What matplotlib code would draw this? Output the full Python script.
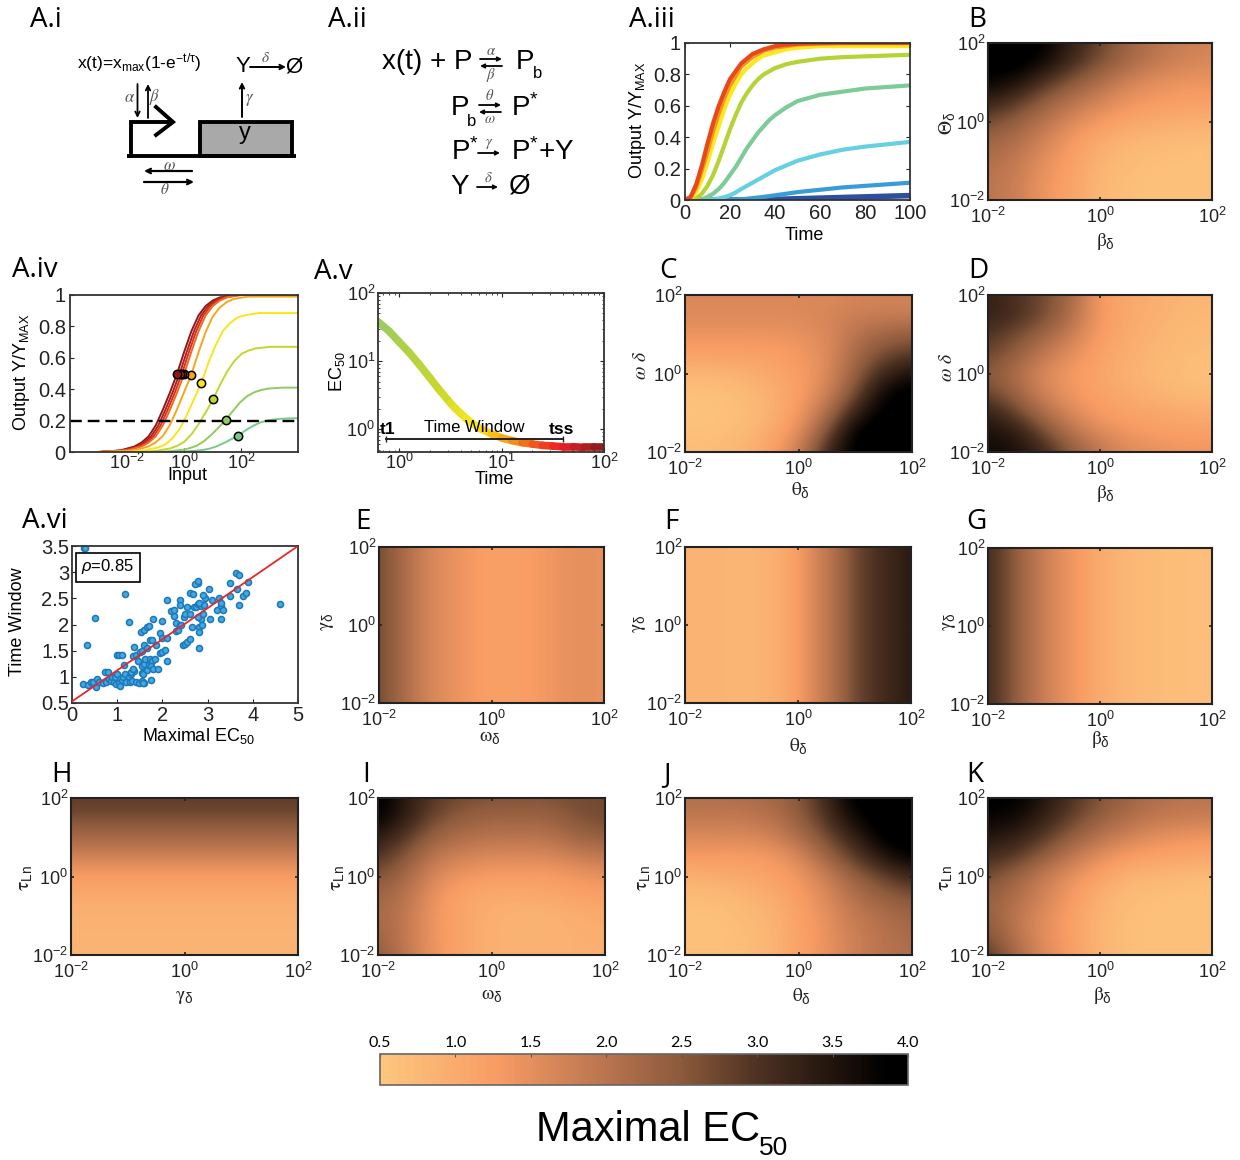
import numpy as np
import matplotlib
matplotlib.use("Agg")
import matplotlib.pyplot as plt
from matplotlib.collections import LineCollection
from matplotlib.colors import LinearSegmentedColormap
from matplotlib.ticker import NullLocator

plt.rcParams['font.family'] = ['Liberation Sans', 'DejaVu Sans']
plt.rcParams['mathtext.fontset'] = 'custom'
plt.rcParams['mathtext.rm'] = 'Liberation Sans'
plt.rcParams['mathtext.it'] = 'Liberation Sans:italic'
plt.rcParams['mathtext.default'] = 'regular'

W, H = 1240, 1160

# ---------- A.iii output vs time
t3 = [0, 2.5, 5, 7.5, 10, 12.5, 15, 17.5, 20, 22.5, 25, 27.5, 30, 32.5, 35, 37.5, 40, 45, 50, 55, 60, 70, 80, 90, 100]
y3_red = [0, .02, .10, .22, .36, .49, .60, .69, .77, .82, .87, .90, .93, .945, .96, .97, .98, .99, .995, .998, 1, 1, 1, 1, 1]
y3_orange = [0, .015, .08, .19, .31, .44, .55, .65, .73, .79, .85, .88, .91, .93, .95, .96, .97, .98, .99, .993, .995, 1, 1, 1, 1]
y3_yellow = [0, .01, .05, .13, .24, .36, .47, .58, .67, .74, .80, .84, .87, .90, .92, .93, .94, .96, .97, .975, .98, .98, .98, .98, .98]
y3_ygreen = [0, 0, .01, .04, .09, .16, .25, .35, .45, .54, .62, .68, .73, .77, .80, .82, .84, .865, .88, .89, .90, .91, .915, .92, .925]
y3_green = [0, 0, 0, .005, .02, .04, .07, .11, .16, .21, .27, .33, .38, .43, .47, .51, .54, .59, .63, .65, .67, .69, .71, .72, .73]
y3_cyan = [0, 0, 0, 0, 0, .004, .01, .018, .03, .048, .07, .09, .11, .13, .15, .17, .19, .22, .25, .27, .29, .32, .34, .355, .37]
y3_blue = [0, 0, 0, 0, 0, 0, 0, .001, .002, .003, .005, .008, .012, .016, .02, .025, .03, .04, .05, .058, .065, .08, .09, .10, .11]
y3_navy = [0, 0, 0, 0, 0, 0, 0, 0, 0, 0, 0, 0, .001, .0015, .002, .003, .004, .006, .008, .01, .012, .016, .02, .024, .028]

# ---------- A.iv dose response (log10 input, output)
x4 = [
    [-3, -2.24, -1.74, -1.49, -1.24, -.99, -.74, -.49, -.24, .01, .26, .51, .76, 1.01, 1.26, 1.76, 4],
    [-3, -2.15, -1.65, -1.4, -1.15, -.9, -.65, -.4, -.15, .1, .35, .6, .85, 1.1, 1.35, 1.85, 4],
    [-3, -2.07, -1.57, -1.32, -1.07, -.82, -.57, -.32, -.07, .18, .43, .68, .93, 1.18, 1.43, 1.93, 4],
    [-3, -1.99, -1.49, -1.24, -.99, -.74, -.49, -.24, .01, .26, .51, .76, 1.01, 1.26, 1.51, 2.01, 4],
    [-3, -1.75, -1.25, -1, -.75, -.5, -.25, 0, .25, .5, .75, 1, 1.25, 1.5, 1.75, 2.25, 4],
    [-2, -1.39, -.89, -.64, -.39, -.14, .11, .36, .61, .86, 1.11, 1.36, 1.61, 1.86, 2.11, 2.61, 4],
    [-1.5, -.98, -.48, -.23, .02, .27, .52, .77, 1.02, 1.27, 1.52, 1.77, 2.02, 2.27, 2.52, 3.02, 4],
    [-1, -.54, -.04, .21, .46, .71, .96, 1.21, 1.46, 1.71, 1.96, 2.21, 2.46, 2.71, 2.96, 3.46, 4],
    [-.5, -.09, .41, .66, .91, 1.16, 1.41, 1.66, 1.91, 2.16, 2.41, 2.66, 2.91, 3.16, 3.41, 3.91, 4],
]
y4_full = [0, .01, .035, .06, .10, .17, .27, .38, .5, .64, .77, .87, .93, .965, .985, 1, 1]
y4 = [
    y4_full, y4_full, y4_full, y4_full,
    [0, .01, .035, .06, .10, .17, .27, .38, .49, .63, .76, .86, .92, .955, .975, .99, .99],
    [0, .01, .03, .05, .09, .15, .24, .34, .44, .57, .68, .77, .82, .855, .87, .885, .885],
    [0, .007, .023, .04, .067, .114, .18, .255, .335, .43, .515, .58, .625, .647, .66, .67, .67],
    [0, .004, .014, .025, .041, .07, .11, .155, .205, .26, .315, .355, .38, .395, .404, .41, .41],
    [0, .002, .008, .013, .022, .037, .058, .082, .105, .138, .165, .187, .2, .207, .212, .215, .215],
]
dots4_x = [-.24, -.15, -.07, .01, .25, .61, 1.02, 1.46, 1.91]
dots4_y = [.5, .5, .5, .5, .49, .44, .335, .205, .105]
colors4 = ['#8b1a1a', '#b5201e', '#d8321f', '#ef6a21', '#f9a51a', '#fbe41c', '#c3d62e', '#8fcb5e', '#79c98f']

# ---------- A.v EC50 vs time (log10)
logt5 = [-.21, -.1, 0, .1, .2, .3, .4, .5, .55, .6, .65, .7, .8, .9, 1, 1.1, 1.2, 1.3, 1.4, 1.5, 1.6, 1.7, 1.8, 1.9, 2]
logec5 = [1.58, 1.44, 1.28, 1.12, .94, .75, .56, .38, .3, .23, .16, .1, 0, -.07, -.13, -.17, -.2, -.22, -.24, -.25, -.26, -.26, -.27, -.27, -.27]

# ---------- A.vi scatter
ec_max = [.27, .28, .34, .5, 1.18, 1.25, 4.6, .25, .35, .42, .47, .52, .56, .6, .68, .72, .75, .8, .82, .86, .88, .92, .95, .97, 1.0, 1.03, 1.07, 1.1, 1.13, 1.17, 1.2, 1.25, 1.28, 1.3, 1.33, 1.38, 1.42, 1.48, 1.55, 1.6, 1.58, 1.75,
          1.0, 1.05, 1.1, 1.15, 1.3, 1.35, 1.35, 1.38, 1.42, 1.45, 1.5, 1.55, 1.58, 1.55, 1.6, 1.62, 1.65, 1.7, 1.72, 1.78, 1.75, 1.8, 1.83, 1.9,
          1.53, 1.6, 1.65, 1.7, 1.8, 1.55, 1.6, 1.65, 1.72, 1.78, 1.85, 1.95, 2.0, 2.05, 2.1, 1.95, 2.0, 2.1, 2.0,
          2.1, 2.25, 2.2, 2.25, 2.3, 2.3, 2.35, 2.38, 2.42, 2.4, 2.4, 2.45, 2.5, 2.55, 2.6, 2.48, 2.5, 2.55, 2.6, 2.65, 2.7, 2.62, 2.67, 2.75, 2.78, 2.8, 2.8, 2.82, 2.85, 2.87, 2.78, 2.9, 2.85, 2.92, 2.95, 2.8, 2.78, 2.72, 2.78, 3.02, 3.05, 3.1, 2.9, 3.25, 3.2, 3.3, 3.35, 3.3, 3.3, 3.5, 3.5, 3.62, 3.7, 3.7, 3.65, 3.78, 3.85, 3.9]
time_window = [3.46, 3.46, 1.6, 2.13, 2.58, 2.05, 2.4, .87, .85, .9, .91, .8, .96, .9, .89, 1.1, .91, 1.09, .95, .92, 1.0, .9, 1.0, .86, 1.05, .88, .82, .93, 1.0, 1.05, .9, 1.0, .9, 1.05, .92, 1.12, .9, .88, .92, .89, .88, .94,
               1.42, 1.42, 1.42, 1.22, 1.1, 1.15, 1.4, 1.57, 1.42, 1.3, 1.48, 1.07, 1.05, 1.2, 1.25, 1.35, 1.13, 1.22, 1.35, 1.3, 1.2, 1.15, 1.35, 1.15,
               1.85, 1.9, 1.95, 1.97, 2.1, 1.5, 1.6, 1.55, 1.7, 1.7, 1.6, 1.45, 1.48, 1.52, 1.3, 1.83, 1.75, 1.75, 2.07,
               2.46, 2.16, 2.25, 2.27, 2.02, 1.88, 1.9, 2.0, 2.0, 2.46, 2.37, 1.6, 1.62, 1.67, 1.72, 2.15, 2.2, 2.33, 2.2, 1.95, 2.33, 2.6, 2.58, 2.33, 2.4, 1.55, 1.95, 1.85, 2.1, 2.0, 2.15, 2.2, 2.35, 2.38, 2.5, 2.42, 2.8, 2.77, 2.83, 2.68, 2.1, 2.47, 2.57, 2.5, 2.28, 2.35, 2.27, 2.1, 2.42, 2.55, 2.8, 2.98, 2.95, 2.37, 2.67, 2.55, 2.6, 2.82]
fit_x = [0, 5]
fit_y = [.53, 3.5]

# ---------- heatmaps, first row is the top of the panel (1e2), half decade grid
Z_B = [[4.0, 4.0, 3.9, 3.3, 2.8, 2.3, 2.0, 1.8, 1.7],
       [4.0, 4.0, 3.7, 3.1, 2.6, 2.2, 1.9, 1.7, 1.6],
       [3.8, 3.6, 3.0, 2.5, 2.1, 1.7, 1.5, 1.4, 1.4],
       [3.3, 2.9, 2.4, 2.0, 1.7, 1.4, 1.3, 1.2, 1.2],
       [2.7, 2.4, 2.0, 1.6, 1.3, 1.1, 1.0, .95, .9],
       [2.3, 2.1, 1.7, 1.3, 1.0, .8, .75, .7, .7],
       [2.1, 1.9, 1.5, 1.2, .85, .7, .65, .6, .6],
       [2.0, 1.8, 1.4, 1.15, .8, .65, .6, .6, .6],
       [2.0, 1.8, 1.4, 1.1, .75, .65, .6, .6, .6]]
Z_C = [[1.6, 1.6, 1.6, 1.6, 1.6, 1.6, 1.65, 1.7, 1.7],
       [1.6, 1.6, 1.6, 1.6, 1.6, 1.65, 1.8, 1.8, 1.8],
       [1.4, 1.4, 1.4, 1.4, 1.45, 1.6, 2.0, 2.3, 2.4],
       [1.2, 1.2, 1.2, 1.2, 1.3, 1.55, 2.2, 2.7, 2.9],
       [.8, .8, .9, 1.05, 1.25, 1.55, 2.4, 3.2, 3.6],
       [.6, .6, .7, .9, 1.2, 1.7, 2.7, 3.8, 4.0],
       [.55, .55, .65, .85, 1.3, 2.1, 3.3, 4.0, 4.0],
       [.6, .6, .7, 1.0, 1.5, 2.6, 4.0, 4.0, 4.0],
       [.7, .7, .8, 1.15, 1.8, 3.2, 4.0, 4.0, 4.0]]
Z_D = [[3.3, 3.0, 2.7, 2.2, 1.25, 1.05, .95, .85, .8],
       [3.3, 3.1, 2.7, 2.1, 1.3, 1.05, .9, .8, .75],
       [3.0, 2.7, 2.3, 1.8, 1.25, 1.0, .85, .75, .7],
       [2.8, 2.4, 1.9, 1.5, 1.15, .95, .8, .7, .65],
       [2.5, 2.1, 1.6, 1.3, 1.1, .9, .75, .65, .6],
       [2.8, 2.3, 1.7, 1.35, 1.15, 1.0, .85, .75, .7],
       [3.3, 2.8, 2.1, 1.6, 1.25, 1.15, 1.1, 1.0, .95],
       [3.6, 3.4, 2.7, 2.0, 1.6, 1.35, 1.25, 1.2, 1.2],
       [3.7, 3.6, 3.2, 2.5, 1.95, 1.6, 1.5, 1.4, 1.4]]
Z_I = [[4.0, 3.4, 2.9, 2.7, 2.6, 2.6, 2.6, 2.7, 2.7],
       [3.9, 3.3, 2.7, 2.4, 2.3, 2.3, 2.3, 2.6, 2.7],
       [3.4, 2.9, 2.3, 2.1, 2.0, 2.0, 2.0, 2.3, 2.4],
       [3.0, 2.5, 1.9, 1.7, 1.6, 1.6, 1.6, 1.8, 1.9],
       [2.6, 2.2, 1.6, 1.35, 1.25, 1.25, 1.25, 1.35, 1.45],
       [2.3, 2.0, 1.4, 1.1, 1.0, 1.0, 1.05, 1.15, 1.2],
       [2.2, 1.9, 1.35, 1.1, .9, .85, .85, .95, 1.0],
       [2.3, 1.9, 1.35, 1.1, .9, .85, .85, .9, .95],
       [2.5, 1.9, 1.4, 1.1, .9, .9, .9, .9, .9]]
Z_J = [[2.1, 2.1, 2.1, 2.2, 2.5, 3.2, 4.0, 4.0, 4.0],
       [1.9, 1.9, 1.9, 2.0, 2.4, 3.0, 3.8, 4.0, 4.0],
       [1.6, 1.6, 1.6, 1.7, 2.1, 2.7, 3.3, 4.0, 4.0],
       [1.3, 1.3, 1.25, 1.3, 1.6, 2.3, 2.9, 3.5, 3.9],
       [.9, .95, 1.05, 1.15, 1.35, 1.8, 2.4, 2.8, 3.2],
       [.7, .7, .8, .95, 1.25, 1.6, 2.1, 2.4, 2.6],
       [.6, .6, .7, .85, 1.15, 1.5, 1.9, 2.1, 2.3],
       [.6, .6, .65, .8, 1.15, 1.45, 1.8, 2.0, 2.2],
       [.6, .6, .65, .8, 1.15, 1.45, 1.8, 2.0, 2.1]]
Z_K = [[3.9, 3.9, 3.5, 3.0, 2.6, 2.3, 2.1, 2.0, 2.0],
       [3.8, 3.7, 3.3, 2.8, 2.4, 2.1, 1.9, 1.85, 1.8],
       [3.5, 3.3, 2.9, 2.4, 2.0, 1.7, 1.5, 1.4, 1.35],
       [3.1, 2.9, 2.4, 1.9, 1.5, 1.25, 1.15, 1.1, 1.05],
       [2.7, 2.3, 1.85, 1.45, 1.15, .85, .8, .75, .7],
       [2.4, 2.1, 1.7, 1.3, .9, .7, .65, .6, .6],
       [2.4, 1.95, 1.55, 1.2, .85, .65, .6, .6, .6],
       [2.6, 2.0, 1.5, 1.2, .8, .65, .6, .6, .6],
       [3.0, 2.2, 1.6, 1.25, .85, .65, .6, .6, .6]]
# panels that only change along one axis
band_E = [2.7, 2.3, 1.9, 1.6, 1.45, 1.3, 1.2, 1.2, 1.25, 1.35, 1.45, 1.5, 1.45]
band_F = [.85, .85, .85, .8, .85, .95, 1.25, 1.7, 2.1, 2.7, 3.0, 3.2, 3.4]
band_G = [3.1, 2.7, 2.2, 1.8, 1.5, 1.25, 1.0, .85, .75, .7, .65, .65, .65]
band_H = [2.85, 2.75, 2.5, 2.2, 1.9, 1.55, 1.25, 1.1, .95, .9, .85, .85, .85]

cbar_ticks = [.5, 1, 1.5, 2, 2.5, 3, 3.5, 4]
cbar_labels = ['0.5', '1.0', '1.5', '2.0', '2.5', '3.0', '3.5', '4.0']
log_labels = ['10$^{-2}$', '10$^{0}$', '10$^{2}$']

cmap = LinearSegmentedColormap.from_list('ec50', [
    (0, '#fdc67f'), (.22, '#f89c64'), (.43, '#b8734e'), (.57, '#8c5a3c'),
    (.714, '#4e3222'), (.857, '#22140d'), (.96, '#000000'), (1, '#000000')])
cmap_v = LinearSegmentedColormap.from_list('win', [
    (0, '#9ccb5e'), (.25, '#c8d82a'), (.42, '#fbe81e'), (.55, '#f9a51a'),
    (.68, '#f0581e'), (.8, '#ed1c24'), (.92, '#a8201f'), (1, '#7a1a1a')])

fig = plt.figure(figsize=(W/100, H/100), dpi=100)


def px_axes(x0, y0, x1, y1):
    return fig.add_axes([x0/W, 1-y1/H, (x1-x0)/W, (y1-y0)/H])


def style_box(ax, lw=1.3, col='#333333'):
    for s in ax.spines.values():
        s.set_linewidth(lw)
        s.set_color(col)
    ax.tick_params(which='both', direction='in', top=True, right=True, length=3, width=.8,
                   labelsize=14.5, pad=3, colors='#222222')


def heat(box, Z):
    ax = px_axes(*box)
    Z = np.array(Z, dtype=float)
    hx = 2 / (Z.shape[1]-1)
    hy = 2 / (Z.shape[0]-1)
    ax.imshow(Z, cmap=cmap, vmin=.5, vmax=4, origin='upper', aspect='auto', interpolation='bicubic',
              extent=(-2-hx, 2+hx, -2-hy, 2+hy))
    ax.set_xlim(-2, 2)
    ax.set_ylim(-2, 2)
    style_box(ax, lw=1.5, col='#222222')
    ax.tick_params(length=2.5, width=1.2, labelsize=13)
    ax.set_xticks([-2, 0, 2], log_labels)
    ax.set_yticks([-2, 0, 2], log_labels)
    ax.tick_params(axis='y', pad=2)
    ax.tick_params(axis='x', pad=5)
    return ax


# A.iii
ax = px_axes(685, 43, 910, 200)
for ys, c, lw in [(y3_navy, '#2b4fa2', 4), (y3_blue, '#3a9bd9', 3), (y3_cyan, '#66cfe0', 3), (y3_green, '#7ccb98', 3),
                  (y3_ygreen, '#b5d334', 3), (y3_yellow, '#fbe91e', 3), (y3_orange, '#f7941d', 3), (y3_red, '#e8481c', 3)]:
    ax.plot(t3, ys, color=c, lw=lw, solid_capstyle='butt')
ax.set_xlim(0, 100)
ax.set_ylim(0, 1)
ax.set_xticks([0, 20, 40, 60, 80, 100])
ax.set_yticks([0, .2, .4, .6, .8, 1], ['0', '0.2', '0.4', '0.6', '0.8', '1'])
style_box(ax)

# A.iv
ax = px_axes(70, 295, 298, 452)
for xs, ys, c in zip(x4, y4, colors4):
    ax.plot(10**np.array(xs), ys, color=c, lw=1.4)
ax.axhline(.2, color='k', lw=1.7, dashes=(5, 2.5))
for i in range(len(dots4_x)-1, -1, -1):
    ax.plot(10**dots4_x[i], dots4_y[i], 'o', ms=6, mfc=colors4[i], mec='k', mew=1.1)
ax.set_xscale('log')
ax.set_xlim(1e-4, 1e4)
ax.set_ylim(0, 1)
style_box(ax)
ax.set_xticks([1e-2, 1, 1e2], log_labels)
ax.xaxis.set_minor_locator(NullLocator())
ax.set_yticks([0, .2, .4, .6, .8, 1], ['0', '0.2', '0.4', '0.6', '0.8', '1'])
ax.tick_params(top=False, right=False)
ax.tick_params(axis='x', pad=1, labelsize=13)

# A.v
ax = px_axes(378, 293, 604, 452)
t5 = 10**np.array(logt5)
e5 = 10**np.array(logec5)
pts = np.column_stack([t5, e5])
segs = np.stack([pts[:-1], pts[1:]], axis=1)
pos = (np.array(logt5[:-1]) - logt5[0]) / (logt5[-1] - logt5[0])
ax.add_collection(LineCollection(segs, colors=cmap_v(pos), linewidths=5.5, capstyle='round'))
ax.plot([.75, 40], [.72, .72], color='#222222', lw=1.4, marker='|', ms=5, mew=1)
ax.set_xscale('log')
ax.set_yscale('log')
ax.set_xlim(.62, 100)
ax.set_ylim(.46, 100)
style_box(ax)
ax.set_xticks([1, 10, 100], ['10$^{0}$', '10$^{1}$', '10$^{2}$'])
ax.set_yticks([1, 10, 100], ['10$^{0}$', '10$^{1}$', '10$^{2}$'])
ax.tick_params(which='minor', length=1.5, width=.6)
ax.tick_params(axis='both', which='major', labelsize=13)
ax.tick_params(axis='y', pad=2)
ax.tick_params(axis='x', pad=1)

# A.vi
ax = px_axes(72, 546, 298, 703)
ax.plot(fit_x, fit_y, color='#e8262a', lw=1.3, zorder=3)
ax.scatter(ec_max, time_window, s=19, marker='o', c='#45a8e0', edgecolors='#1b78bb', linewidths=1.1, zorder=2, clip_on=True)
ax.set_xlim(0, 5)
ax.set_ylim(.5, 3.5)
ax.set_xticks([0, 1, 2, 3, 4, 5])
ax.set_yticks([.5, 1, 1.5, 2, 2.5, 3, 3.5], ['0.5', '1', '1.5', '2', '2.5', '3', '3.5'])
style_box(ax)
ax.tick_params(top=False, right=False, pad=2)

# heatmaps
heat((988, 43, 1212, 200), Z_B)
heat((685, 295, 912, 452), Z_C)
heat((988, 295, 1212, 452), Z_D)
heat((379, 547, 604, 703), [band_E, band_E])
heat((685, 547, 911, 703), [band_F, band_F])
heat((988, 548, 1212, 704), [band_G, band_G])
heat((71, 798, 298, 955), np.array([band_H, band_H]).T)
heat((378, 798, 605, 955), Z_I)
heat((685, 798, 912, 955), Z_J)
heat((988, 798, 1212, 955), Z_K)

# colorbar
cax = px_axes(380, 1054, 908, 1085)
sm = plt.cm.ScalarMappable(cmap=cmap, norm=plt.Normalize(.5, 4))
cb = fig.colorbar(sm, cax=cax, orientation='horizontal', ticks=cbar_ticks)
cb.ax.set_xticklabels(cbar_labels, family='Lato', fontsize=11.5)
cb.ax.xaxis.set_ticks_position('top')
cb.ax.tick_params(direction='in', length=2, width=.8, pad=3, color='#555555')
cb.outline.set_edgecolor('#666666')
cb.outline.set_linewidth(1.2)

# overlay in pixel coordinates for panel letters, axis names and the schemes
ov = fig.add_axes([0, 0, 1, 1], zorder=10)
ov.set_xlim(0, W)
ov.set_ylim(H, 0)
ov.axis('off')
ov.patch.set_alpha(0)


def T(x, y, s, fs=13, ha='center', va='center', **kw):
    ov.text(x, y, s, fontsize=fs, ha=ha, va=va, **kw)


def arrow(x0, y0, x1, y1, lw=1.3, ms=8):
    ov.annotate('', xy=(x1, y1), xytext=(x0, y0),
                arrowprops=dict(arrowstyle='->', lw=lw, color='k', shrinkA=0, shrinkB=0, mutation_scale=ms))


def greek(x, y, s, fs=11, col='#555555'):
    ov.text(x, y, r'$\mathit{%s}$' % s, fontsize=fs, ha='center', va='center', color=col, math_fontfamily='stix')


for lab, x, y in [('A.i', 30, 20), ('A.ii', 328, 20), ('A.iii', 629, 20), ('B', 968, 20),
                  ('A.iv', 12, 270), ('A.v', 314, 272), ('C', 659, 271), ('D', 968, 271),
                  ('A.vi', 22, 521), ('E', 355, 522), ('F', 664, 522), ('G', 966, 522),
                  ('H', 51, 775), ('I', 362, 775), ('J', 663, 775), ('K', 966, 775)]:
    T(x, y, lab, fs=20, ha='left', family='Open Sans')

# axis names of the line panels
T(804, 235, 'Time', fs=13)
T(637, 120, 'Output Y/Y$_{MAX}$', fs=13, rotation=90)
T(22, 372, 'Output Y/Y$_{MAX}$', fs=13, rotation=90)
T(187, 476, 'Input', fs=13)
T(337, 372, 'EC$_{50}$', fs=13, rotation=90)
T(494, 479, 'Time', fs=13)
T(474, 428, 'Time Window', fs=12)
T(388, 429, 't1', fs=12.5, fontweight='bold')
T(561, 430, 'tss', fs=12.5, fontweight='bold')
T(18, 622, 'Time Window', fs=13, rotation=90)
T(198, 736, 'Maximal EC$_{50}$', fs=13)
ov.text(108, 567, r'$\mathit{\rho}$=0.85', fontsize=12, ha='center', va='center',
        bbox=dict(boxstyle='square,pad=0.3', fc='white', ec='k', lw=1.2))

# axis names of the heatmaps
for x, y, s, rot in [(1105, 242, r'\mathrm{\beta}_\delta', 0), (947, 123, r'\mathrm{\Theta}_\delta', 90),
                     (800, 490, r'\mathrm{\theta}_\delta', 0), (641, 365, r'\mathit{\omega}\ \mathit{\delta}', 90),
                     (1105, 493, r'\mathrm{\beta}_\delta', 0), (948, 367, r'\mathit{\omega}\ \mathit{\delta}', 90),
                     (490, 738, r'\mathrm{\omega}_\delta', 0), (328, 622, r'\mathrm{\gamma}_\delta', 90),
                     (798, 746, r'\mathrm{\theta}_\delta', 0), (639, 624, r'\mathrm{\gamma}_\delta', 90),
                     (1100, 740, r'\mathrm{\beta}_\delta', 0), (950, 622, r'\mathrm{\gamma}_\delta', 90),
                     (184, 997, r'\mathrm{\gamma}_\delta', 0), (26, 878, r'\mathrm{\tau}_{Ln}', 90),
                     (492, 995, r'\mathrm{\omega}_\delta', 0), (338, 878, r'\mathrm{\tau}_{Ln}', 90),
                     (801, 996, r'\mathrm{\theta}_\delta', 0), (643, 878, r'\mathrm{\tau}_{Ln}', 90),
                     (1102, 996, r'\mathrm{\beta}_\delta', 0), (946, 878, r'\mathrm{\tau}_{Ln}', 90)]:
    ov.text(x, y, '$%s$' % s, fontsize=14, ha='center', va='center', rotation=rot,
            color='#222222', math_fontfamily='stix')

# A.i scheme
T(77, 63, 'x(t)=x$_{max}$(1-e$^{-t/\\tau}$)', fs=12.5, ha='left')
T(243, 67, 'Y', fs=16)
arrow(250, 67, 286, 67, lw=1.4)
greek(266, 58, r'\delta')
T(294, 67, 'Ø', fs=16)
arrow(242, 117, 242, 82, lw=1.4)
greek(250, 100, r'\gamma', fs=12)
ov.add_patch(plt.Rectangle((200, 122), 92, 34, fc='#a9a9a9', ec='k', lw=2.8))
T(245, 133, 'y', fs=17)
ov.plot([127, 296], [156, 156], color='k', lw=2.8, solid_capstyle='butt')
ov.plot([131, 131, 172], [156, 122, 122], color='k', lw=2.8, solid_joinstyle='miter')
ov.plot([156, 173, 156], [107, 122, 135], color='k', lw=2.8, solid_joinstyle='miter')
arrow(137.5, 84, 137.5, 118)
arrow(148, 118, 148, 84)
greek(130, 98, r'\alpha', fs=12)
greek(155, 97, r'\beta', fs=12)
arrow(192, 171, 144, 171, lw=1.6)
greek(169, 165, r'\omega', fs=12)
arrow(144, 182, 194, 182, lw=1.6)
greek(165, 190, r'\theta', fs=11)

# A.ii scheme
T(382, 62, 'x(t) + P', fs=20, ha='left')
T(516, 62, 'P', fs=20, ha='left')
T(538, 73, 'b', fs=12)
arrow(480, 59, 502, 59, ms=6)
arrow(502, 66, 480, 66, ms=6)
greek(491, 51, r'\alpha', fs=10.5)
greek(491, 75, r'\beta', fs=10.5)

T(451, 108, 'P', fs=20, ha='left')
T(472, 122, 'b', fs=12)
arrow(479, 105, 501, 105, ms=6)
arrow(501, 112, 479, 112, ms=6)
greek(490, 96, r'\theta', fs=10.5)
greek(490, 119, r'\omega', fs=10.5)
T(511, 108, 'P$^{*}$', fs=20, ha='left')

T(451, 152, 'P$^{*}$', fs=20, ha='left')
arrow(478, 153, 500, 153, ms=6)
greek(489, 144, r'\gamma', fs=10.5)
T(511, 152, 'P$^{*}$+Y', fs=20, ha='left')

T(450, 187, 'Y', fs=20, ha='left')
arrow(477, 187, 498, 187, ms=6)
greek(488, 178, r'\delta', fs=10.5)
T(509, 187, 'Ø', fs=20, ha='left')

# title of the colorbar
T(536, 1130, 'Maximal EC', fs=30, ha='left')
T(759, 1148, '50', fs=19, ha='left')

fig.savefig('out.png', dpi=100)
